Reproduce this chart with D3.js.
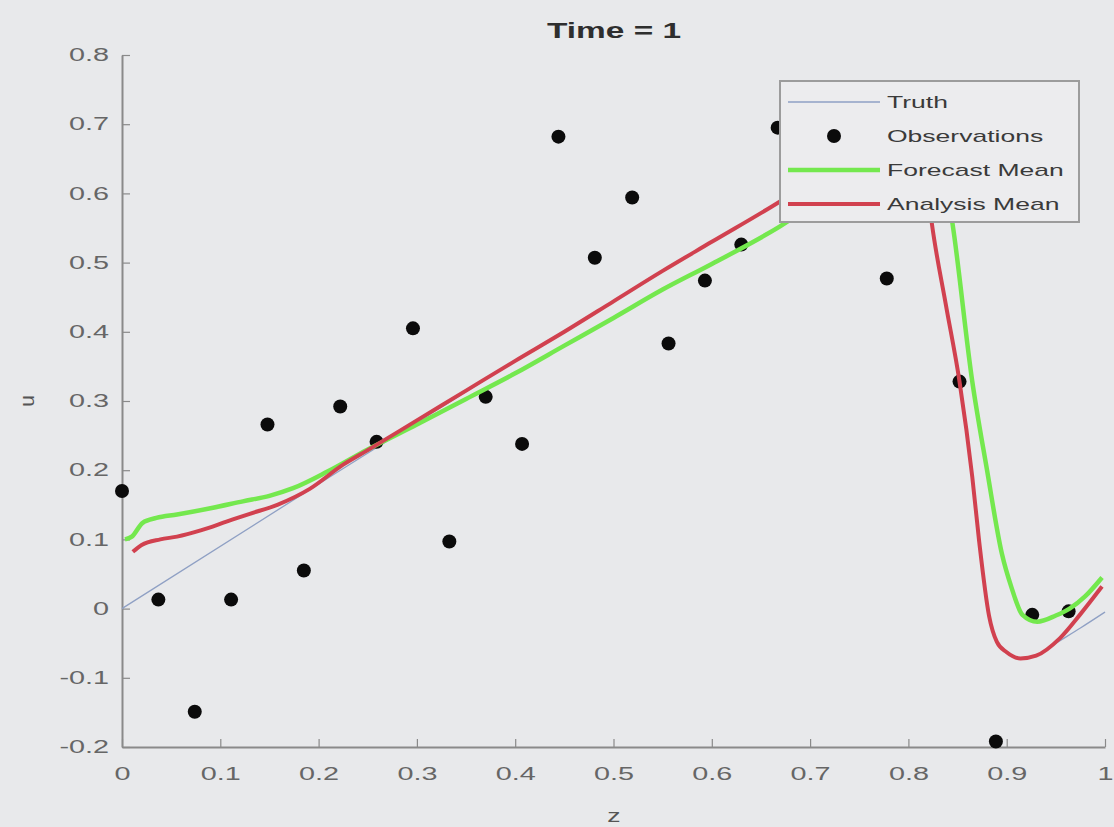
<!DOCTYPE html>
<html>
<head>
<meta charset="utf-8">
<script src="https://cdn.jsdelivr.net/npm/d3@7"></script>
<style>
  html, body { margin: 0; padding: 0; background: #e8e9eb; }
  svg { display: block; }
  text { font-family: "Liberation Sans", Arial, sans-serif; }
</style>
</head>
<body>
<svg id="chart" width="1114" height="827"></svg>
<script>
// ---- data ----
const xTicks = [0, 0.1, 0.2, 0.3, 0.4, 0.5, 0.6, 0.7, 0.8, 0.9, 1];
const xTickLabels = ["0", "0.1", "0.2", "0.3", "0.4", "0.5", "0.6", "0.7", "0.8", "0.9", "1"];
const yTicks = [-0.2, -0.1, 0, 0.1, 0.2, 0.3, 0.4, 0.5, 0.6, 0.7, 0.8];
const yTickLabels = ["-0.2", "-0.1", "0", "0.1", "0.2", "0.3", "0.4", "0.5", "0.6", "0.7", "0.8"];

const truthZ = [0, 0.2, 0.4, 0.6, 0.669, 0.72, 0.77, 0.80, 0.815, 0.824, 0.838, 0.852, 0.865, 0.872, 0.882, 0.89, 0.90, 0.914, 0.93, 0.95, 0.975, 1.0];
const truthU = [0, 0.18, 0.358, 0.53, 0.588, 0.635, 0.68, 0.70, 0.66, 0.555, 0.44, 0.328, 0.19, 0.097, -0.01, -0.048, -0.063, -0.072, -0.068, -0.05, -0.028, -0.005];

const obsZ = [0, 0.037, 0.074, 0.111, 0.148, 0.185, 0.222, 0.259, 0.296, 0.333, 0.370, 0.407, 0.444, 0.481,
              0.519, 0.556, 0.593, 0.630, 0.667, 0.704, 0.741, 0.778, 0.815, 0.852, 0.889, 0.926, 0.963];
const obsU = [0.17, 0.013, -0.149, 0.013, 0.266, 0.055, 0.292, 0.241, 0.405, 0.097, 0.306, 0.238, 0.682, 0.507,
              0.594, 0.383, 0.474, 0.526, 0.695, 0.64, 0.72, 0.477, 0.62, 0.328, -0.192, -0.009, -0.004];

const forecastZ = [0.003, 0.01, 0.021, 0.035, 0.056, 0.09, 0.123, 0.15, 0.174, 0.209, 0.25, 0.3, 0.35, 0.4, 0.45, 0.5,
                   0.55, 0.6, 0.669, 0.72, 0.77, 0.80, 0.82, 0.835, 0.845, 0.865, 0.88, 0.895, 0.905, 0.916, 0.931,
                   0.95, 0.964, 0.98, 0.997];
const forecastU = [0.100, 0.104, 0.124, 0.131, 0.136, 0.145, 0.155, 0.163, 0.174, 0.198, 0.230, 0.266, 0.303, 0.340,
                   0.380, 0.420, 0.461, 0.498, 0.552, 0.600, 0.645, 0.670, 0.675, 0.640, 0.555, 0.328, 0.200, 0.080,
                   0.030, -0.009, -0.019, -0.010, 0.0, 0.018, 0.045];

const analysisZ = [0.011, 0.02, 0.039, 0.056, 0.08, 0.107, 0.13, 0.158, 0.191, 0.225, 0.25, 0.3, 0.35, 0.4, 0.45, 0.5,
                   0.55, 0.6, 0.669, 0.72, 0.77, 0.80, 0.815, 0.824, 0.838, 0.852, 0.865, 0.872, 0.882, 0.89, 0.90,
                   0.914, 0.93, 0.954, 0.975, 0.997];
const analysisU = [0.082, 0.092, 0.100, 0.104, 0.113, 0.126, 0.137, 0.150, 0.173, 0.208, 0.229, 0.272, 0.315, 0.358,
                   0.400, 0.444, 0.488, 0.530, 0.588, 0.635, 0.680, 0.700, 0.660, 0.555, 0.440, 0.328, 0.190, 0.097,
                   -0.010, -0.048, -0.063, -0.072, -0.068, -0.043, -0.008, 0.032];

const legendItems = ["Truth", "Observations", "Forecast Mean", "Analysis Mean"];

// ---- layout ----
const W = 1114, H = 827;
const plot = { left: 122, right: 1105, top: 55, bottom: 747 };

const svg = d3.select("#chart");
svg.append("rect").attr("width", W).attr("height", H).attr("fill", "#e8e9eb");

const x = d3.scaleLinear().domain([0, 1]).range([plot.left, plot.right]);
const y = d3.scaleLinear().domain([-0.2, 0.8]).range([plot.bottom, plot.top]);

// horizontally widened text
function stretchedText(g, tx, ty, str, opts) {
  const t = g.append("text")
    .attr("transform", `translate(${tx},${ty}) scale(${opts.sx},1)`)
    .attr("text-anchor", opts.anchor || "start")
    .attr("font-size", opts.size || 18)
    .attr("font-weight", opts.weight || "normal")
    .attr("fill", opts.fill || "#333")
    .text(str);
  if (opts.dy) t.attr("dy", opts.dy);
  return t;
}

// ---- axes ----
const axisColor = "#8a8a8a";
const xAxis = d3.axisBottom(x).tickValues(xTicks)
  .tickFormat((d, i) => xTickLabels[i]).tickSize(-8).tickSizeOuter(0).tickPadding(20);
const yAxis = d3.axisLeft(y).tickValues(yTicks)
  .tickFormat((d, i) => yTickLabels[i]).tickSize(-8).tickSizeOuter(0).tickPadding(13);

const gx = svg.append("g").attr("transform", `translate(0,${plot.bottom})`).call(xAxis);
const gy = svg.append("g").attr("transform", `translate(${plot.left},0)`).call(yAxis);

[gx, gy].forEach(g => {
  g.select(".domain").attr("stroke", axisColor).attr("stroke-width", 2);
  g.selectAll(".tick line").attr("stroke", axisColor).attr("stroke-width", 1.2);
  g.selectAll(".tick text").each(function () {
    const el = d3.select(this);
    const tx = +el.attr("x") || 0, ty = +el.attr("y") || 0;
    el.attr("x", null).attr("y", null)
      .attr("transform", `translate(${tx},${ty}) scale(1.6,1)`)
      .attr("font-size", 18)
      .attr("font-family", "Liberation Sans, Arial, sans-serif")
      .attr("fill", "#666");
  });
});

// ---- series ----
const line = d3.line().x(d => x(d[0])).y(d => y(d[1])).curve(d3.curveMonotoneX);
const zip = (a, b) => a.map((v, i) => [v, b[i]]);

svg.append("path").datum(zip(truthZ, truthU))
  .attr("d", line).attr("fill", "none").attr("stroke", "#8fa0c4").attr("stroke-width", 1.3);

svg.append("g").selectAll("circle").data(zip(obsZ, obsU)).join("circle")
  .attr("cx", d => x(d[0])).attr("cy", d => y(d[1])).attr("r", 7).attr("fill", "#0b0b0b");

svg.append("path").datum(zip(forecastZ, forecastU))
  .attr("d", line).attr("fill", "none").attr("stroke", "#74e84e").attr("stroke-width", 4.5)
  .attr("stroke-linejoin", "round");

svg.append("path").datum(zip(analysisZ, analysisU))
  .attr("d", line).attr("fill", "none").attr("stroke", "#d1414f").attr("stroke-width", 4)
  .attr("stroke-linejoin", "round");

// ---- legend ----
const lg = svg.append("g");
const lgBox = { x: 780, y: 81, w: 299, h: 141 };
lg.append("rect").attr("x", lgBox.x).attr("y", lgBox.y).attr("width", lgBox.w).attr("height", lgBox.h)
  .attr("fill", "#ececee").attr("stroke", "#9c9c9c").attr("stroke-width", 2);
const rowY = [102, 136, 170, 204];
const sx0 = 788, sx1 = 880;
lg.append("line").attr("x1", sx0).attr("x2", sx1).attr("y1", rowY[0]).attr("y2", rowY[0])
  .attr("stroke", "#8fa0c4").attr("stroke-width", 1.3);
lg.append("circle").attr("cx", (sx0 + sx1) / 2).attr("cy", rowY[1]).attr("r", 7).attr("fill", "#0b0b0b");
lg.append("line").attr("x1", sx0).attr("x2", sx1).attr("y1", rowY[2]).attr("y2", rowY[2])
  .attr("stroke", "#74e84e").attr("stroke-width", 4.5);
lg.append("line").attr("x1", sx0).attr("x2", sx1).attr("y1", rowY[3]).attr("y2", rowY[3])
  .attr("stroke", "#d1414f").attr("stroke-width", 4);
legendItems.forEach((s, i) => {
  stretchedText(lg, 887, rowY[i], s, { size: 17, sx: 1.56, dy: "0.35em", fill: "#3a3a3a" });
});

// ---- titles ----
stretchedText(svg, 614, 38, "Time = 1", { size: 22, sx: 1.52, weight: "bold", anchor: "middle", fill: "#2e2e2e" });
stretchedText(svg, 614, 822, "z", { size: 19, sx: 1.4, anchor: "middle", fill: "#555" });
svg.append("text")
  .attr("transform", `translate(34,401) rotate(-90)`)
  .attr("text-anchor", "middle").attr("font-size", 21).attr("fill", "#555")
  .text("u");
</script>
</body>
</html>
